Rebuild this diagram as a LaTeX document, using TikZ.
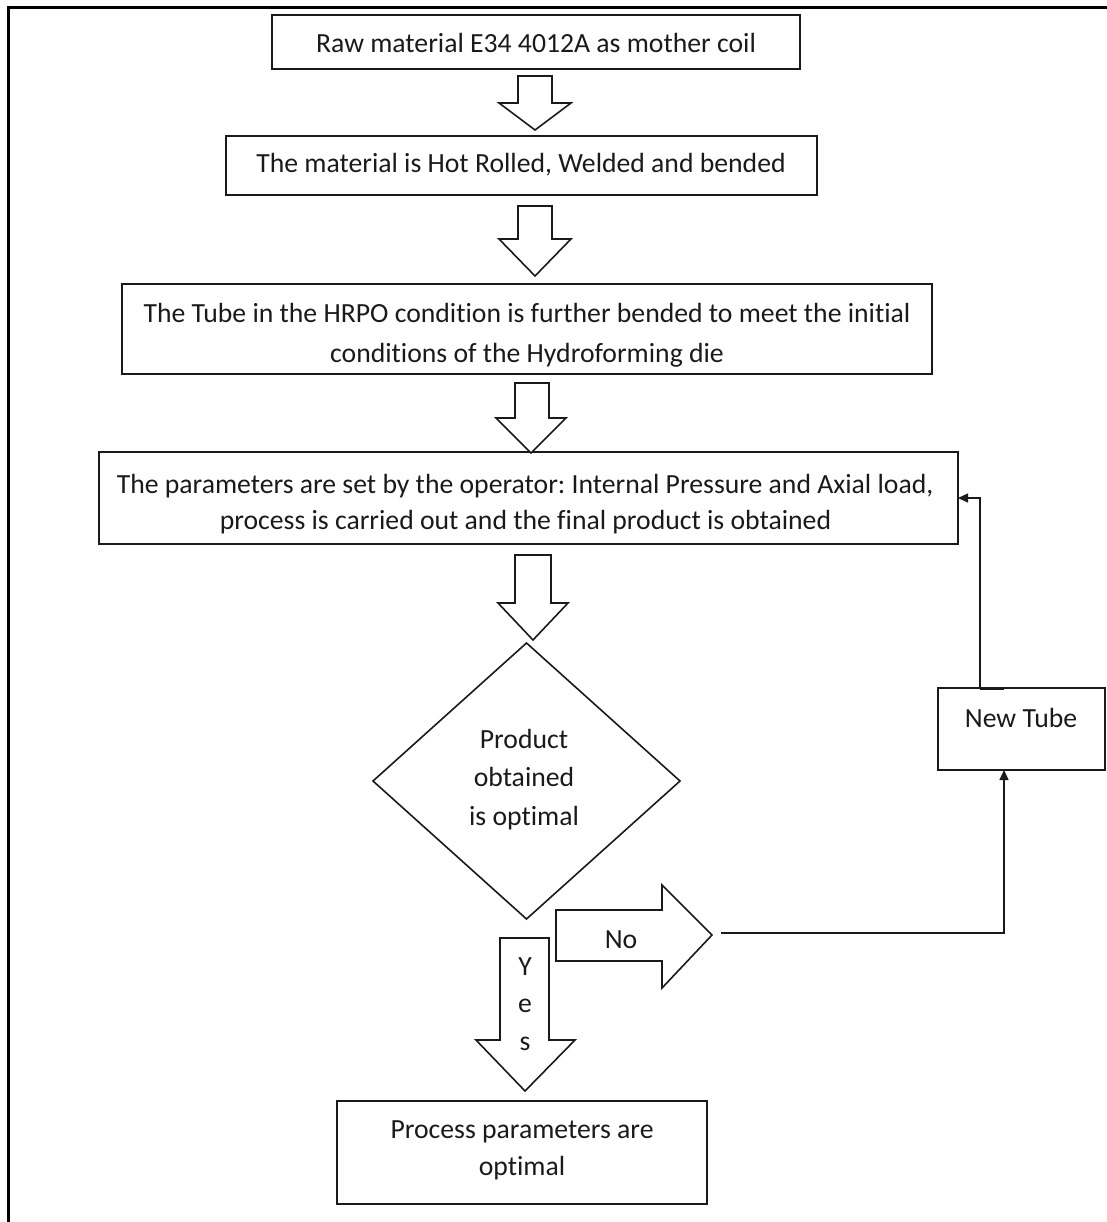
\documentclass[tikz,border=0pt]{standalone}
\usepackage{fontspec}
\setmainfont[Ligatures=NoCommon]{Carlito}
\usetikzlibrary{arrows.meta,shapes.geometric,calc}
\definecolor{ink}{HTML}{1A1A1A}
\frenchspacing
\begin{document}
\begin{tikzpicture}[x=1pt,y=-1pt,
  box/.style={draw=ink, line width=1.6pt, rectangle, inner sep=0pt, outer sep=0pt},
  dia/.style={draw=ink, line width=1.6pt, diamond, inner sep=0pt, outer sep=0pt},
  blk/.style={draw=ink, line width=1.6pt, fill=white, line join=miter},
  txt/.style={anchor=base, inner sep=0pt, text=ink, font=\fontsize{27.7}{33}\selectfont},
  conn/.style={draw=ink, line width=1.4pt, -{Triangle[length=10pt,width=9pt]}},
  frame/.style={draw=black, line width=3pt}]
\useasboundingbox (0,0) rectangle (1107,1222);
% outer frame
\draw[frame] (1107,7.5) -- (8.5,7.5) -- (8.5,1222);
% boxes
\node[box, minimum width=528pt, minimum height=54pt] (b1) at (536,42) {};
\node[box, minimum width=591pt, minimum height=59pt] (b2) at (521.5,165.5) {};
\node[box, minimum width=810pt, minimum height=90pt] (b3) at (527,329) {};
\node[box, minimum width=859pt, minimum height=92pt] (b4) at (528.5,498) {};
\node[dia, minimum width=307pt, minimum height=276pt] (d) at (526.5,781) {};
\node[box, minimum width=167pt, minimum height=82pt] (b5) at (1021.5,729) {};
\node[box, minimum width=370pt, minimum height=103pt] (b6) at (522,1152.5) {};
% texts
\node[txt] (t1) at (536,53) {Raw material E34 4012A as mother coil};
\node[txt] (t2) at (521,173) {The material is Hot Rolled, Welded and bended};
\node[txt] (t3a) at (527,323) {The Tube in the HRPO condition is further bended to meet the initial};
\node[txt] (t3b) at (527,362) {conditions of the Hydroforming die};
\node[txt] (t4a) at (525,493) {The parameters are set by the operator: Internal Pressure and Axial load,};
\node[txt] (t4b) at (525.5,529) {process is carried out and the final product is obtained};
\node[txt] (td1) at (524,748) {Product};
\node[txt] (td2) at (524,786.5) {obtained};
\node[txt] (td3) at (524,825) {is optimal};
\node[txt] (t5) at (1021,727) {New Tube};
\node[txt] (t6a) at (522,1138) {Process parameters are};
\node[txt] (t6b) at (522,1175) {optimal};
% block arrows down
\draw[blk] (518,76) -- (552,76) -- (552,103) -- (571,103) -- (535,130) -- (499,103) -- (518,103) -- cycle;
\draw[blk] (518,206) -- (552,206) -- (552,239) -- (571,239) -- (535,276) -- (499,239) -- (518,239) -- cycle;
\draw[blk] (515,383) -- (549,383) -- (549,418) -- (566,418) -- (531,453) -- (496,418) -- (515,418) -- cycle;
\draw[blk] (515,555) -- (551,555) -- (551,603) -- (568,603) -- (533,640) -- (498,603) -- (515,603) -- cycle;
% Yes arrow
\draw[blk] (500,938) -- (549,938) -- (549,1040) -- (575,1040) -- (525,1091) -- (476,1040) -- (500,1040) -- cycle;
\node[txt] (ty) at (525,975) {Y};
\node[txt] (te) at (525,1012) {e};
\node[txt] (ts) at (525,1050) {s};
% No arrow
\draw[blk] (556,910) -- (662,910) -- (662,885) -- (712,935) -- (662,988) -- (662,961) -- (556,961) -- cycle;
\node[txt] (tno) at (621,948) {No};
% connectors
\coordinate (nt) at (721,933);
\draw[conn] (nt) -| ([xshift=-17.5pt]b5.south);
\draw[conn] ([xshift=-41.5pt]b5.north) |- (b4.east);
\draw[draw=ink, line width=3pt] ([xshift=-41.5pt]b5.north) -- ([xshift=-17.5pt]b5.north);
\end{tikzpicture}
\end{document}
